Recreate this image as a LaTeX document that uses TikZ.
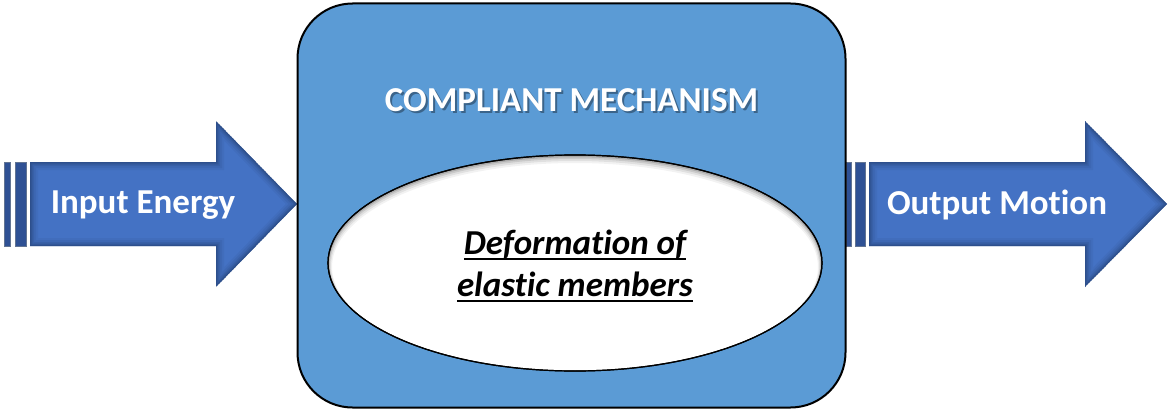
\documentclass[tikz,border=0pt]{standalone}
\usepackage{fontspec}
\setmainfont{Carlito}[Ligatures={NoCommon,NoContextual}]
\usetikzlibrary{shapes.geometric}
\definecolor{boxblue}{HTML}{5B9BD5}
\definecolor{arrowblue}{HTML}{4472C4}
\definecolor{arrowedge}{HTML}{1F3864}
\definecolor{stripeblue}{HTML}{2F5194}

% heavier underline at a fixed depth below the baseline
\newsavebox{\ulbox}
\newcommand{\heavyul}[1]{\sbox{\ulbox}{#1}\rlap{\rule[-6pt]{\wd\ulbox}{2pt}}\usebox{\ulbox}}

% arrow outlines
\def\leftarrowpath{(30,162) -- (216,162) -- (216,121) -- (297,204) -- (216,287) -- (216,246) -- (30,246) -- cycle}
\def\rightarrowpath{(869,162) -- (1085,162) -- (1085,121) -- (1167,204) -- (1085,287) -- (1085,246) -- (869,246) -- cycle}

\tikzset{
  blocktext/.style={font=\fontsize{35}{42}\selectfont\bfseries, text=white, inner sep=0pt},
  stripe/.style={fill=stripeblue, draw=arrowedge!70, line width=0.8pt},
}

\newcommand{\shadedarrow}[1]{%
  \begin{scope}
    \clip #1;
    \fill[arrowblue] #1;
    \foreach \w/\o in {16/0.08, 12/0.10, 8/0.14, 5/0.18, 2.5/0.25}
      \draw[arrowedge, line width=\w pt, opacity=\o, line join=miter] #1;
  \end{scope}}

\begin{document}
\begin{tikzpicture}[x=1pt, y=-1pt]
  \useasboundingbox (0,0) rectangle (1168,412);

  % left arrow with tail stripes
  \shadedarrow{\leftarrowpath}
  \path[stripe] (4,162) rectangle (10,246);
  \path[stripe] (15,162) rectangle (26,246);
  \node[blocktext] (input) at (143,205) {Input Energy};

  % right arrow with tail stripes
  \path[stripe] (846,162) rectangle (851,246);
  \path[stripe] (855,162) rectangle (865,246);
  \shadedarrow{\rightarrowpath}
  \node[blocktext] (output) at (997,205) {Output Motion};

  % mechanism block
  \node[draw=black, line width=2pt, fill=boxblue, rounded corners=55pt,
        minimum width=548pt, minimum height=404pt, inner sep=0pt]
        (mech) at (571.5,205.5) {};
  \node[blocktext, text=black, opacity=0.35] (titleshadow) at (573.5,102) {COMPLIANT MECHANISM};
  \node[blocktext] (title) at (571.5,100) {COMPLIANT MECHANISM};

  % elastic members, with a soft shadow under its upper rim
  \node[ellipse, fill=white, draw=black, line width=1.2pt,
        minimum width=494pt, minimum height=216pt, inner sep=0pt]
        (elastic) at (575,263) {};
  \begin{scope}
    \clip (575,263) ellipse [x radius=247, y radius=108];
    \foreach \s/\w/\o in {4/8/0.05, 3/6/0.07, 2/4/0.10, 1/2.5/0.15}
      \draw[black, line width=\w pt, opacity=\o] (575,263+\s) ellipse [x radius=247, y radius=108];
  \end{scope}
  \draw[black, line width=1.2pt] (575,263) ellipse [x radius=247, y radius=108];
  \node[blocktext, text=black, align=center, font=\fontsize{35}{42}\selectfont\bfseries\itshape]
        (deform) at (575,266) {\heavyul{Deformation of}\\\heavyul{elastic members}};
\end{tikzpicture}
\end{document}
